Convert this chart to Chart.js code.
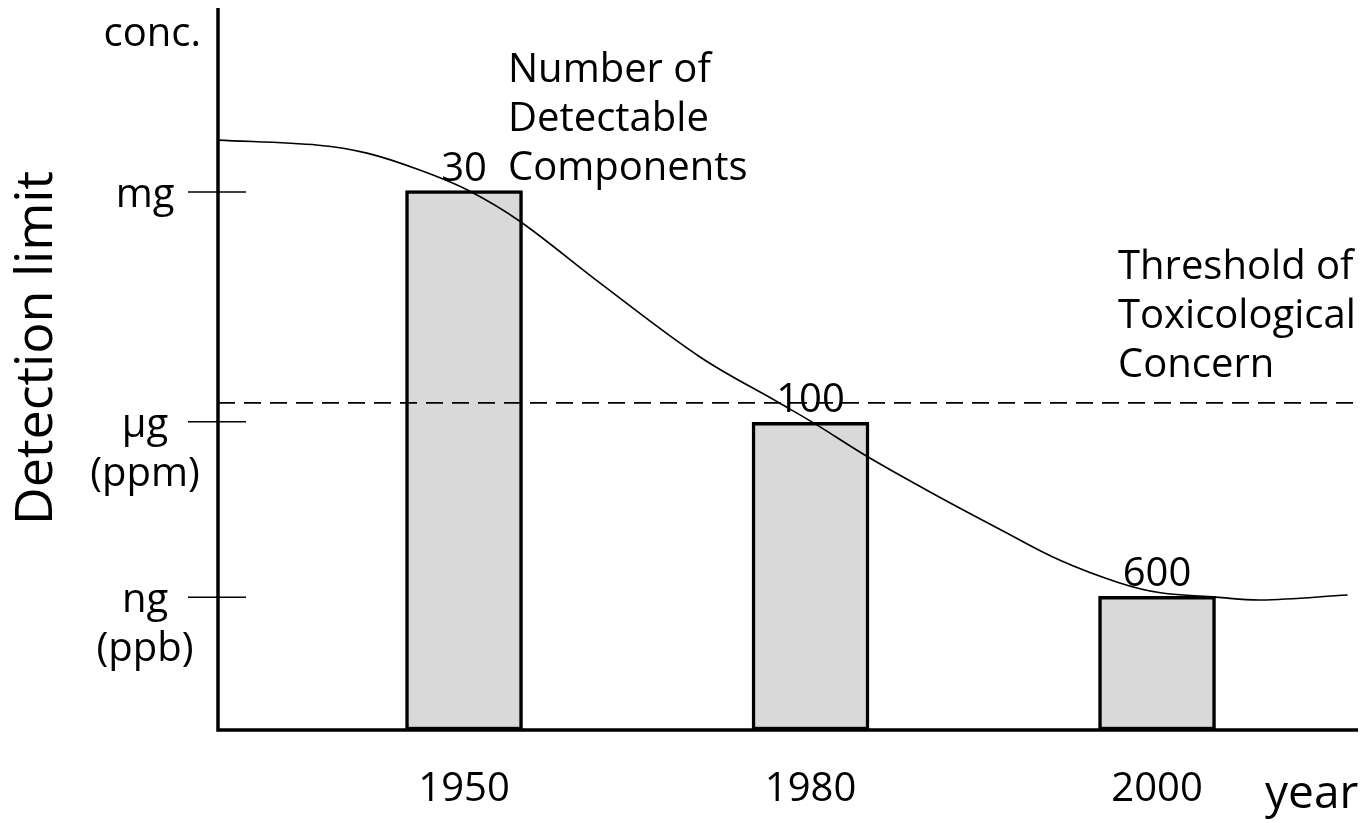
<!DOCTYPE html>
<html>
<head>
<meta charset="utf-8">
<title>Detection limit</title>
<script src="https://cdn.jsdelivr.net/npm/chart.js@4/dist/chart.umd.min.js"></script>
<style>
  html, body { margin: 0; padding: 0; background: #fff; }
  #chart { display: block; }
</style>
</head>
<body>
<canvas id="chart" width="1372" height="823"></canvas>
<script>
// categories on the year axis (plotted at equal spacing, as in the sketch)
const years = ['1950', '1980', '2000'];
const yearIndex = [0, 1, 2];
// number of detectable components, written above each bar
const componentCounts = ['30', '100', '600'];
// detection limit level of each bar (arbitrary log-concentration units)
const detectionLevel = [7.47, 4.26, 1.85];

// detection-limit trend curve
const trendX = [-0.71, -0.42, -0.28, -0.13, 0.01, 0.16, 0.39, 0.68, 0.91, 1.01, 1.17, 1.37, 1.55, 1.72, 1.89, 2.01, 2.17, 2.30, 2.55];
const trendY = [8.17, 8.10, 7.99, 7.76, 7.48, 7.05, 6.20, 5.17, 4.53, 4.25, 3.77, 3.23, 2.77, 2.35, 2.04, 1.90, 1.84, 1.80, 1.87];

// threshold of toxicological concern
const thresholdLevel = 4.53;

// concentration units on the y axis
const unitLevels = [7.45, 4.27, 1.84];
const unitLabels = [['mg'], ['µg', '(ppm)'], ['ng', '(ppb)']];

const xMin = -0.71, xMax = 2.58;
const yMin = 0, yMax = 10;

const FONT = '"Open Sans", "DejaVu Sans", sans-serif';

const sketchPlugin = {
    id: 'sketch',
    afterDatasetsDraw(chart) {
        const { ctx, chartArea: area, scales: { x, y } } = chart;
        ctx.save();
        ctx.fillStyle = '#000';
        ctx.strokeStyle = '#000';

        // axes
        ctx.lineWidth = 3.5;
        ctx.beginPath();
        ctx.moveTo(area.left, area.top);
        ctx.lineTo(area.left, area.bottom);
        ctx.lineTo(area.right, area.bottom);
        ctx.stroke();

        // unit ticks crossing the y axis + labels
        ctx.lineWidth = 1.5;
        ctx.font = '40px ' + FONT;
        ctx.textAlign = 'center';
        ctx.textBaseline = 'alphabetic';
        unitLevels.forEach((lvl, i) => {
            const py = y.getPixelForValue(lvl);
            ctx.beginPath();
            ctx.moveTo(area.left - 30, py);
            ctx.lineTo(area.left + 28, py);
            ctx.stroke();
            unitLabels[i].forEach((line, j) => {
                ctx.fillText(line, 145, py + 15 + j * 49);
            });
        });

        ctx.textAlign = 'right';
        ctx.fillText('conc.', 201, 46);

        // year labels
        ctx.textAlign = 'center';
        yearIndex.forEach((xi, i) => {
            ctx.fillText(years[i], x.getPixelForValue(xi), area.bottom + 71);
        });

        // counts above bars
        const bars = chart.getDatasetMeta(0).data;
        bars.forEach((bar, i) => {
            ctx.fillText(componentCounts[i], bar.x, bar.y - 10);
        });

        // annotations
        ctx.textAlign = 'left';
        ['Number of', 'Detectable', 'Components'].forEach((t, i) => ctx.fillText(t, 508, 82 + i * 49));
        ['Threshold of', 'Toxicological', 'Concern'].forEach((t, i) => ctx.fillText(t, 1118, 279 + i * 49));

        ctx.font = '46px ' + FONT;
        ctx.fillText('year', 1265, 808);

        // rotated y title
        ctx.font = '52px ' + FONT;
        ctx.translate(52, 348);
        ctx.rotate(-Math.PI / 2);
        ctx.textAlign = 'center';
        ctx.fillText('Detection limit', 0, 0);

        ctx.restore();
    }
};

new Chart(document.getElementById('chart'), {
    type: 'bar',
    data: {
        datasets: [
            {
                type: 'bar',
                data: yearIndex.map((xi, i) => ({ x: xi, y: detectionLevel[i] })),
                backgroundColor: '#d9d9d9',
                borderColor: '#000',
                borderWidth: 3.5,
                borderSkipped: false,
                barThickness: 117,
                order: 2
            },
            {
                type: 'line',
                data: trendX.map((v, i) => ({ x: v, y: trendY[i] })),
                borderColor: '#000',
                borderWidth: 1.6,
                pointRadius: 0,
                fill: false,
                tension: 0.35,
                order: 1
            },
            {
                type: 'line',
                data: [{ x: xMin, y: thresholdLevel }, { x: xMax, y: thresholdLevel }],
                borderColor: '#000',
                borderWidth: 1.8,
                borderDash: [17, 9],
                pointRadius: 0,
                fill: false,
                order: 0
            }
        ]
    },
    options: {
        responsive: false,
        animation: false,
        layout: { padding: { left: 218, right: 14, top: 8, bottom: 93 } },
        plugins: { legend: { display: false }, tooltip: { enabled: false } },
        scales: {
            x: { type: 'linear', min: xMin, max: xMax, offset: false, display: false },
            y: { type: 'linear', min: yMin, max: yMax, display: false }
        }
    },
    plugins: [sketchPlugin]
});
</script>
</body>
</html>
